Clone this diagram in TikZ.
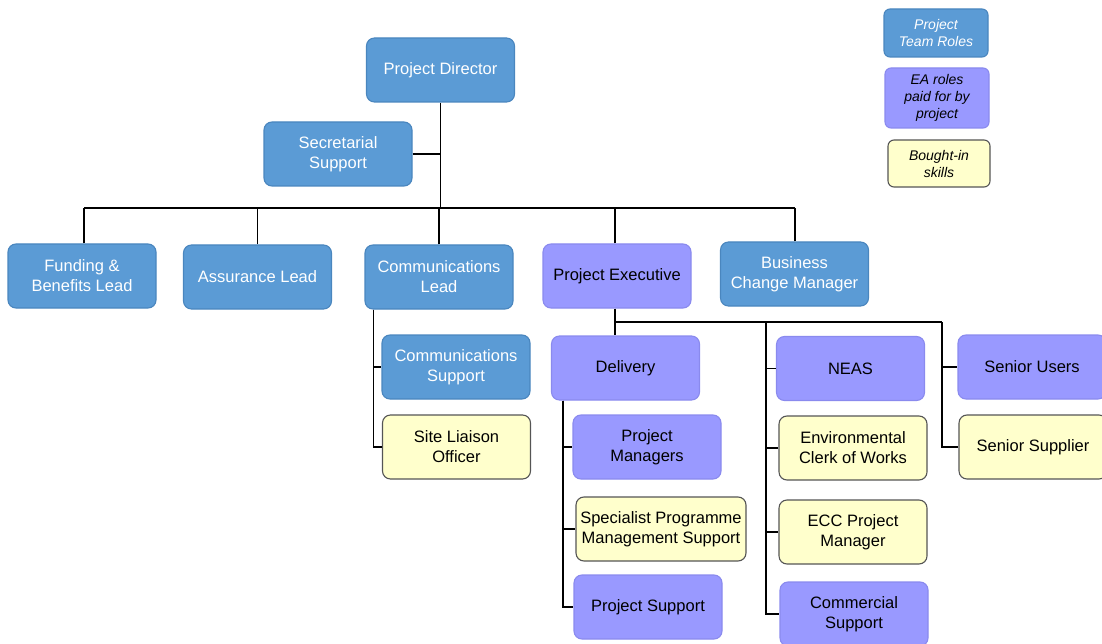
\documentclass[tikz,border=0pt]{standalone}
\usepackage{fontspec}
\setmainfont{Liberation Sans}
\definecolor{roleblue}{HTML}{5B9BD5}
\definecolor{roleblueedge}{HTML}{4A86BE}
\definecolor{eapurple}{HTML}{9999FF}
\definecolor{eapurpleedge}{HTML}{8A8AEE}
\definecolor{boughtyellow}{HTML}{FFFFCC}
\definecolor{boughtedge}{HTML}{555555}
\tikzset{
  box/.style={rectangle, rounded corners=8pt, minimum width=148pt, minimum height=64pt,
    align=center, inner sep=2pt, line width=1.1pt,
    font=\fontsize{16.5}{20}\selectfont},
  team/.style={box, fill=roleblue, draw=roleblueedge, text=white},
  ea/.style={box, fill=eapurple, draw=eapurpleedge, text=black},
  bought/.style={box, fill=boughtyellow, draw=boughtedge, text=black},
  legend/.style={minimum width=104pt, rounded corners=6pt,
    font=\fontsize{14}{17}\selectfont\itshape},
  conn/.style={draw=black, line width=1.4pt}
}
\begin{document}
\begin{tikzpicture}[x=1pt,y=-1pt]
\useasboundingbox (0,0) rectangle (1102,644);

% legend
\node[team, legend, minimum height=48pt] (lgTeam) at (936,33) {Project\\Team Roles};
\node[ea, legend, minimum height=60pt] (lgEA) at (937,98) {EA roles\\paid for by\\project};
\node[bought, legend, minimum width=102pt, minimum height=47pt] (lgBought) at (939,163.5) {Bought-in\\skills};

% top of the tree
\node[team] (dir) at (440.5,70) {Project Director};
\node[team] (sec) at (338,154) {Secretarial\\Support};

% second level
\node[team] (fund) at (82,276) {Funding \&\\Benefits Lead};
\node[team] (assur) at (257.5,277) {Assurance Lead};
\node[team] (comml) at (439,277) {Communications\\Lead};
\node[ea] (pexec) at (617,276) {Project Executive};
\node[team] (bcm) at (794.5,274) {Business\\Change Manager};

% communications branch
\node[team] (commsup) at (456,367) {Communications\\Support};
\node[bought] (site) at (456.5,447) {Site Liaison\\Officer};

% project executive branch
\node[ea] (deliv) at (625.5,368) {Delivery};
\node[ea] (neas) at (850.5,368.5) {NEAS};
\node[ea] (susers) at (1032,367) {Senior Users};
\node[bought] (ssupp) at (1033,447) {Senior Supplier};

\node[ea] (pman) at (647,447) {Project\\Managers};
\node[bought, minimum width=170pt] (spec) at (661,529) {Specialist Programme\\Management Support};
\node[ea] (psupp) at (648,607) {Project Support};

\node[bought] (envc) at (853,448) {Environmental\\Clerk of Works};
\node[bought] (ecc) at (853,532) {ECC Project\\Manager};
\node[ea] (comms) at (854,614) {Commercial\\Support};

% junction points
\coordinate (busL) at (84,208);
\coordinate (busR) at (795,208);
\coordinate (peJ) at (615,322);
\coordinate (neJ) at (766,322);
\coordinate (snJ) at (942,322);
\coordinate (clJ) at ([xshift=9pt]comml.south west);
\coordinate (dlJ) at ([xshift=12pt]deliv.south west);

% director and main bus
\draw[conn] (dir.south) -- (dir.south |- busL);
\draw[conn] (sec.east) -- (sec.east -| dir.south);
\draw[conn] (busL) -- (busR);
\draw[conn] (fund.north -| busL) -- (busL);
\draw[conn] (assur.north) -- (assur.north |- busL);
\draw[conn] (comml.north) -- (comml.north |- busL);
\draw[conn] (peJ |- pexec.north) -- (peJ |- busL);
\draw[conn] (busR |- bcm.north) -- (busR);

% communications lead branch
\draw[conn] (clJ) |- (commsup.west);
\draw[conn] (clJ) |- (site.west);

% project executive branch
\draw[conn] (peJ |- pexec.south) -- (peJ) -- (snJ);
\draw[conn] (peJ) -- (peJ |- deliv.north);

\draw[conn] (dlJ) |- (pman.west);
\draw[conn] (dlJ) |- (spec.west);
\draw[conn] (dlJ) |- (psupp.west);

\draw[conn] (neJ) |- (neas.west);
\draw[conn] (neJ) |- (envc.west);
\draw[conn] (neJ) |- (ecc.west);
\draw[conn] (neJ) |- (comms.west);

\draw[conn] (snJ) |- (susers.west);
\draw[conn] (snJ) |- (ssupp.west);
\end{tikzpicture}
\end{document}
